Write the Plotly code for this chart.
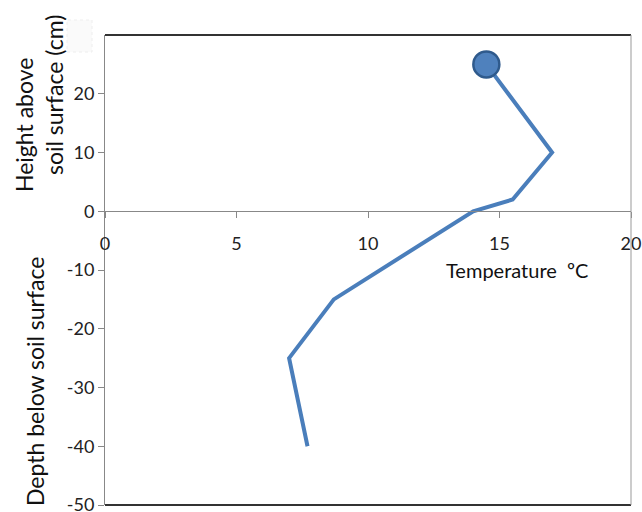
import plotly.graph_objects as go

temperature = [14.5, 17.0, 15.5, 14.0, 8.7, 7.0, 7.7]
height_cm = [25, 10, 2, 0, -15, -25, -40]
x_ticks = [0, 5, 10, 15, 20]
x_tick_labels = ["0", "5", "10", "15", "20"]
y_ticks = [-50, -40, -30, -20, -10, 0, 10, 20]
y_tick_labels = ["-50", "-40", "-30", "-20", "-10", "0", "10", "20"]

FONT = "Lato, Carlito, 'Open Sans', sans-serif"
BLUE = "#4A7EBB"

fig = go.Figure()
fig.add_trace(go.Scatter(
    x=temperature, y=height_cm, mode="lines",
    line=dict(color=BLUE, width=4), showlegend=False))
fig.add_trace(go.Scatter(
    x=temperature[:1], y=height_cm[:1], mode="markers",
    marker=dict(size=26, color="#4F81BD", line=dict(color="#2F5A8C", width=2.5)),
    showlegend=False))

ymin, ymax = -50, 30
W0, PW = 105, 526   # plot left px, plot width px
T0, PH = 35, 470    # plot top px, plot height px


def px_x(p):
    return (p - W0) / PW


def px_y(p):
    return (T0 + PH - p) / PH


fig.update_layout(
    width=642, height=512,
    margin=dict(l=105, r=11, t=35, b=7, autoexpand=False),
    paper_bgcolor="white", plot_bgcolor="white",
    font=dict(family=FONT, size=16, color="#222"),
    xaxis=dict(range=[0, 20], tickvals=x_ticks, ticktext=x_tick_labels,
               ticks="outside", ticklen=6,
               tickcolor="#888", showgrid=False, zeroline=False,
               showline=True, linecolor="#888", linewidth=1,
               anchor="free", position=(0 - ymin) / (ymax - ymin),
               ticklabelstandoff=10, automargin=False,
               ticklabeloverflow="allow",
               tickfont=dict(size=18, color="#222")),
    yaxis=dict(range=[ymin, ymax], tickvals=y_ticks, ticktext=y_tick_labels,
               ticks="outside", ticklen=6, automargin=False,
               ticklabeloverflow="allow",
               tickcolor="#888", showgrid=False, zeroline=False,
               showline=True, linecolor="#888", linewidth=1,
               tickfont=dict(size=18, color="#222")),
    shapes=[
        dict(type="line", xref="paper", yref="paper", x0=0, x1=1, y0=1, y1=1,
             line=dict(color="#333", width=2)),
        dict(type="line", xref="paper", yref="paper", x0=0, x1=1, y0=0, y1=0,
             line=dict(color="#333", width=2)),
        dict(type="line", xref="paper", yref="paper", x0=1, x1=1, y0=0, y1=1,
             line=dict(color="#999", width=1)),
        dict(type="rect", xref="paper", yref="paper", x0=px_x(67), x1=px_x(92),
             y0=px_y(52), y1=px_y(20), line=dict(color="#eeeeee", width=1, dash="dot"),
             fillcolor="#fafafa"),
    ],
    annotations=[
        dict(text="Temperature  ºC", x=px_x(517), y=px_y(270), xref="paper", yref="paper",
             xanchor="center", yanchor="middle",
             showarrow=False, font=dict(size=20, color="#111")),
        dict(text="Height above", xref="paper", yref="paper",
             x=px_x(24), y=px_y(125), xanchor="center", yanchor="middle",
             textangle=-90, showarrow=False,
             font=dict(size=23, color="#111")),
        dict(text="soil surface (cm)", xref="paper", yref="paper",
             x=px_x(54), y=px_y(95), xanchor="center", yanchor="middle",
             textangle=-90, showarrow=False,
             font=dict(size=23, color="#111")),
        dict(text="Depth below soil surface", xref="paper", yref="paper",
             x=px_x(35), y=px_y(382), xanchor="center", yanchor="middle",
             textangle=-90, showarrow=False,
             font=dict(size=23, color="#111")),
    ],
)

fig.write_html("out.html", config={"displayModeBar": False},
               post_script="document.body.style.margin='0';document.body.style.overflow='hidden';")
